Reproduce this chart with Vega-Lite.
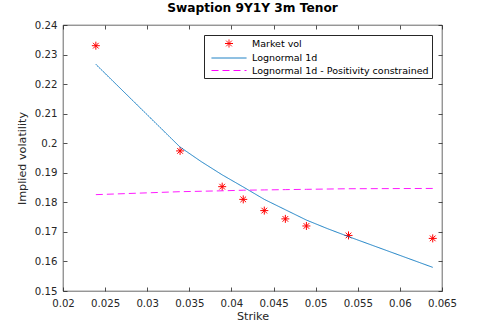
{
  "$schema": "https://vega.github.io/schema/vega-lite/v6.json",
  "width": 379,
  "height": 266,
  "autosize": {"type": "none"},
  "padding": {"left": 63, "top": 25, "right": 46, "bottom": 36},
  "background": "white",
  "title": {"text": "Swaption 9Y1Y 3m Tenor", "font": "DejaVu Sans", "fontSize": 12.2, "fontWeight": "bold", "color": "#000000", "anchor": "middle", "offset": 6},
  "config": {
    "view": {"stroke": "#262626", "strokeWidth": 0.7},
    "axis": {
      "domain": false, "ticks": true, "labelFlush": false,
      "tickColor": "#262626", "tickWidth": 0.8, "tickSize": 4, "offset": -4,
      "labelColor": "#262626", "labelFont": "DejaVu Sans", "labelFontSize": 10.2,
      "titleColor": "#262626", "titleFont": "DejaVu Sans", "titleFontSize": 11.2, "titleFontWeight": "normal",
      "grid": false
    },
    "legend": {
      "labelFont": "DejaVu Sans", "labelFontSize": 9.5, "labelColor": "#000000", "labelLimit": 300
    }
  },
  "datasets": {
    "market": [
      {"strike": 0.0239, "vol": 0.2330, "series": "Market vol"},
      {"strike": 0.0339, "vol": 0.1974, "series": "Market vol"},
      {"strike": 0.0389, "vol": 0.1853, "series": "Market vol"},
      {"strike": 0.0414, "vol": 0.1810, "series": "Market vol"},
      {"strike": 0.0439, "vol": 0.1772, "series": "Market vol"},
      {"strike": 0.0464, "vol": 0.1744, "series": "Market vol"},
      {"strike": 0.0489, "vol": 0.1720, "series": "Market vol"},
      {"strike": 0.0539, "vol": 0.1688, "series": "Market vol"},
      {"strike": 0.0639, "vol": 0.1678, "series": "Market vol"}
    ],
    "model": [
      {"strike": 0.0239, "vol": 0.2267, "series": "Lognormal 1d"},
      {"strike": 0.0339, "vol": 0.1987, "series": "Lognormal 1d"},
      {"strike": 0.0364, "vol": 0.1938, "series": "Lognormal 1d"},
      {"strike": 0.0389, "vol": 0.1893, "series": "Lognormal 1d"},
      {"strike": 0.0414, "vol": 0.1852, "series": "Lognormal 1d"},
      {"strike": 0.0439, "vol": 0.1810, "series": "Lognormal 1d"},
      {"strike": 0.0464, "vol": 0.1775, "series": "Lognormal 1d"},
      {"strike": 0.0489, "vol": 0.1740, "series": "Lognormal 1d"},
      {"strike": 0.0514, "vol": 0.1711, "series": "Lognormal 1d"},
      {"strike": 0.0539, "vol": 0.1684, "series": "Lognormal 1d"},
      {"strike": 0.0639, "vol": 0.1580, "series": "Lognormal 1d"},
      {"strike": 0.0239, "vol": 0.1826, "series": "Lognormal 1d - Positivity constrained"},
      {"strike": 0.0339, "vol": 0.1836, "series": "Lognormal 1d - Positivity constrained"},
      {"strike": 0.0389, "vol": 0.1839, "series": "Lognormal 1d - Positivity constrained"},
      {"strike": 0.0414, "vol": 0.1841, "series": "Lognormal 1d - Positivity constrained"},
      {"strike": 0.0439, "vol": 0.1842, "series": "Lognormal 1d - Positivity constrained"},
      {"strike": 0.0464, "vol": 0.1843, "series": "Lognormal 1d - Positivity constrained"},
      {"strike": 0.0489, "vol": 0.1844, "series": "Lognormal 1d - Positivity constrained"},
      {"strike": 0.0539, "vol": 0.1846, "series": "Lognormal 1d - Positivity constrained"},
      {"strike": 0.0639, "vol": 0.1847, "series": "Lognormal 1d - Positivity constrained"}
    ]
  },
  "layer": [
    {
      "data": {"name": "market"},
      "mark": {"type": "point", "filled": false, "size": 100, "strokeWidth": 1, "opacity": 1},
      "encoding": {
        "x": {"field": "strike", "type": "quantitative", "scale": {"domain": [0.02, 0.065], "nice": false, "zero": false},
              "axis": {"orient": "bottom", "title": "Strike", "format": "~g", "labelPadding": 7, "titlePadding": 2, "values": [0.02, 0.025, 0.03, 0.035, 0.04, 0.045, 0.05, 0.055, 0.06, 0.065]}},
        "y": {"field": "vol", "type": "quantitative", "scale": {"domain": [0.15, 0.24], "nice": false, "zero": false},
              "axis": {"orient": "left", "title": "Implied volatility", "format": "~g", "labelPadding": 6, "titlePadding": 7, "values": [0.15, 0.16, 0.17, 0.18, 0.19, 0.2, 0.21, 0.22, 0.23, 0.24]}},
        "color": {"field": "series", "type": "nominal",
                  "scale": {"domain": ["Market vol", "Lognormal 1d", "Lognormal 1d - Positivity constrained"], "range": ["#ff0000", "#0072bd", "#ff00ff"]},
                  "legend": {"title": null, "orient": "top-right", "offset": 10, "strokeColor": "#262626", "fillColor": "white", "padding": 3, "symbolSize": 100, "symbolStrokeWidth": 1, "symbolOffset": 16.5, "labelOffset": 17.5, "rowPadding": 2.5}},
        "shape": {"field": "series", "type": "nominal",
                  "scale": {"domain": ["Market vol", "Lognormal 1d", "Lognormal 1d - Positivity constrained"],
                            "range": ["M-0.8,0L0.8,0M0,-0.8L0,0.8M-0.566,-0.566L0.566,0.566M-0.566,0.566L0.566,-0.566", "M-3.5,0L3.5,0", "M-3.5,0L3.5,0"]},
                  "legend": {"title": null}}
      }
    },
    {
      "data": {"name": "model"},
      "mark": {"type": "line", "strokeWidth": 0.9},
      "encoding": {
        "x": {"field": "strike", "type": "quantitative", "scale": {"domain": [0.02, 0.065], "nice": false, "zero": false},
              "axis": {"orient": "top", "labels": false, "title": null, "ticks": true, "values": [0.02, 0.025, 0.03, 0.035, 0.04, 0.045, 0.05, 0.055, 0.06, 0.065]}},
        "y": {"field": "vol", "type": "quantitative", "scale": {"domain": [0.15, 0.24], "nice": false, "zero": false},
              "axis": {"orient": "right", "labels": false, "title": null, "ticks": true, "values": [0.15, 0.16, 0.17, 0.18, 0.19, 0.2, 0.21, 0.22, 0.23, 0.24]}},
        "color": {"field": "series", "type": "nominal",
                  "scale": {"domain": ["Market vol", "Lognormal 1d", "Lognormal 1d - Positivity constrained"], "range": ["#ff0000", "#0072bd", "#ff00ff"]},
                  "legend": {"title": null}},
        "strokeDash": {"field": "series", "type": "nominal",
                       "scale": {"domain": ["Market vol", "Lognormal 1d", "Lognormal 1d - Positivity constrained"], "range": [[1, 0], [1, 0], [7, 4]]},
                       "legend": {"title": null}}
      }
    }
  ],
  "resolve": {"axis": {"x": "independent", "y": "independent"}}
}
